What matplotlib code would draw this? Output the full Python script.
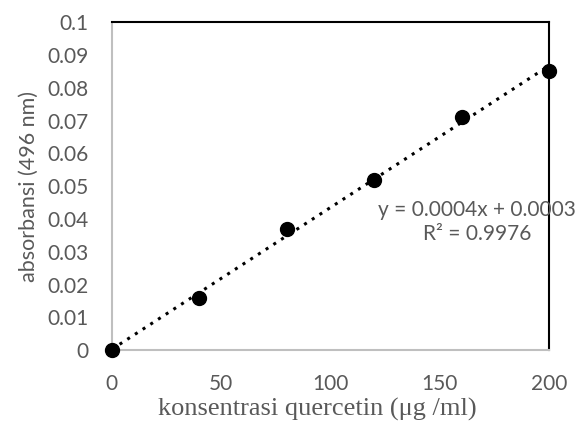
import numpy as np
import matplotlib.pyplot as plt

# quercetin standard curve
konsentrasi = [0, 40, 80, 120, 160, 200]
absorbansi = [0.0, 0.016, 0.037, 0.052, 0.071, 0.085]
xticks = [0, 50, 100, 150, 200]
yticks = [0, 0.01, 0.02, 0.03, 0.04, 0.05, 0.06, 0.07, 0.08, 0.09, 0.1]
ytick_labels = ['0', '0.01', '0.02', '0.03', '0.04', '0.05', '0.06', '0.07', '0.08', '0.09', '0.1']

gray = '#595959'
fig = plt.figure(figsize=(5.86, 4.25), dpi=100)
ax = fig.add_axes([0.191, 0.176, 0.746, 0.772])

# linear trendline from the points
k, b = np.polyfit(konsentrasi, absorbansi, 1)
xl = np.array([0, 200])
ax.plot(xl, k * xl + b, color='black', linestyle=(0, (1, 2)), linewidth=2.2, zorder=2)
ax.plot(konsentrasi, absorbansi, 'o', color='black', markersize=10, zorder=3, clip_on=False)

ax.set_xlim(0, 200)
ax.set_ylim(0, 0.1)
ax.set_xticks(xticks)
ax.set_yticks(yticks)
ax.set_yticklabels(ytick_labels)
ax.tick_params(length=0, pad=17, labelsize=15, labelcolor=gray, labelfontfamily='Lato')
ax.tick_params(axis='x', pad=17)

for s in ['left', 'bottom']:
    ax.spines[s].set_color('#bfbfbf')
    ax.spines[s].set_linewidth(1.5)
for s in ['top', 'right']:
    ax.spines[s].set_color('black')
    ax.spines[s].set_linewidth(1.5)

ax.set_xlabel('konsentrasi quercetin (μg /ml)', fontsize=19, color=gray,
              fontfamily='Liberation Serif', labelpad=3)
ax.xaxis.label.set_x(0.47)
ax.set_ylabel('absorbansi (496 nm)', fontsize=15.5, color=gray,
              fontfamily='Lato', labelpad=6)

ax.text(0.835, 0.39, 'y = 0.0004x + 0.0003\nR² = 0.9976', transform=ax.transAxes,
        ha='center', va='center', fontsize=15, color=gray, fontfamily='Lato',
        linespacing=1.25, zorder=4)

fig.savefig('out.png', dpi=100)
